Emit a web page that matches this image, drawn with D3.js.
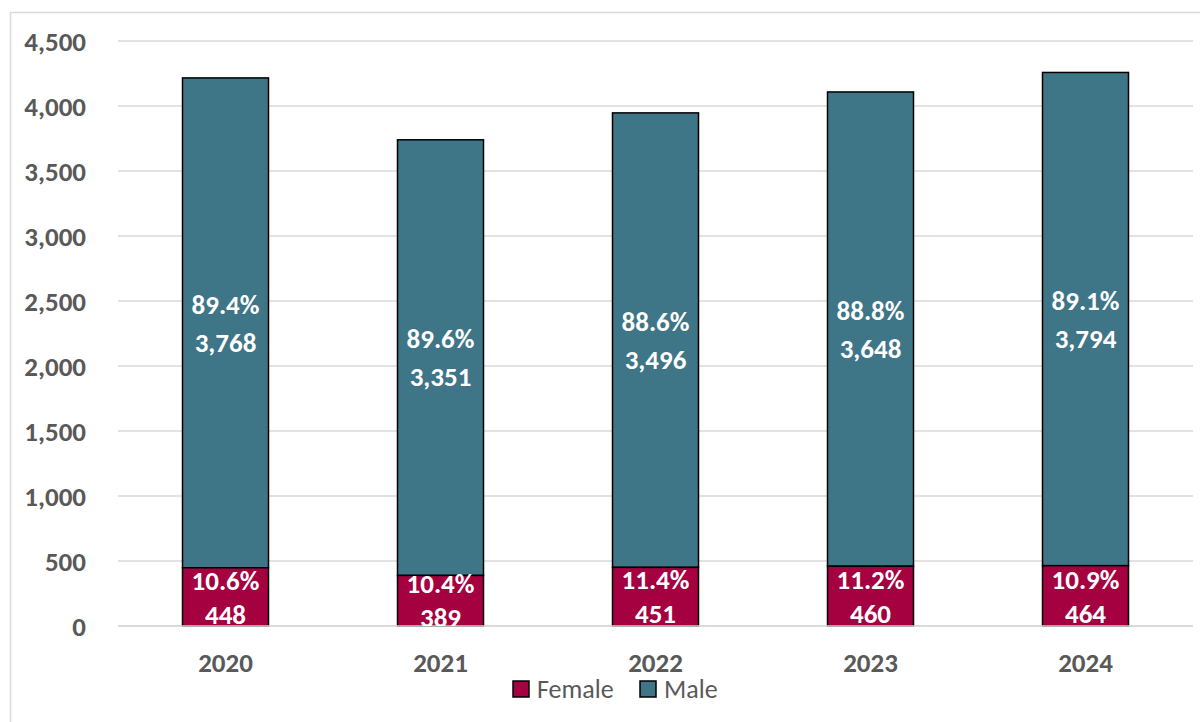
<!DOCTYPE html>
<html><head><meta charset="utf-8">
<script src="https://cdn.jsdelivr.net/npm/d3@7"></script>
<style>body{margin:0;background:#fff}svg{display:block}</style>
</head><body>
<script>
const years = ["2020","2021","2022","2023","2024"];
const female = [448, 389, 451, 460, 464];
const male = [3768, 3351, 3496, 3648, 3794];
const femalePct = ["10.6%","10.4%","11.4%","11.2%","10.9%"];
const malePct = ["89.4%","89.6%","88.6%","88.8%","89.1%"];
const yTicks = [0,500,1000,1500,2000,2500,3000,3500,4000,4500];
const seriesNames = ["Female","Male"];

const W=1200,H=722;
const font="Calibri, Carlito, Lato, 'Open Sans', sans-serif";
const cFemale="#A5003F", cMale="#3E7587", grey="#595959";
const svg=d3.select("body").append("svg").attr("width",W).attr("height",H);
svg.append("rect").attr("x",10.5).attr("y",12.5).attr("width",W).attr("height",H).attr("fill","none").attr("stroke","#d9d9d9").attr("stroke-width",1.5);

const x=d3.scaleBand().domain(years).range([118,1193]).paddingInner(0.6).paddingOuter(0.3);
const y=d3.scaleLinear().domain([0,4500]).range([626,41]);

const fmt=d3.format(",");
svg.append("g").selectAll("line").data(yTicks).join("line")
  .attr("x1",118).attr("x2",1193).attr("y1",d=>y(d)).attr("y2",d=>y(d))
  .attr("stroke","#d9d9d9").attr("stroke-width",1.5);
svg.append("g").selectAll("text").data(yTicks).join("text")
  .attr("x",86).attr("y",d=>y(d)).attr("dy","0.36em").attr("text-anchor","end")
  .attr("font-family",font).attr("font-weight","bold").attr("font-size",27).attr("fill",grey)
  .text(d=>fmt(d));

const data=years.map((yr,i)=>({yr,f:female[i],m:male[i],fp:femalePct[i],mp:malePct[i]}));
const g=svg.append("g");
g.selectAll(".m").data(data).join("rect")
  .attr("x",d=>x(d.yr)).attr("width",x.bandwidth())
  .attr("y",d=>y(d.f+d.m)).attr("height",d=>y(d.f)-y(d.f+d.m))
  .attr("fill",cMale).attr("stroke","#000").attr("stroke-width",1.5);
g.selectAll(".f").data(data).join("rect")
  .attr("x",d=>x(d.yr)).attr("width",x.bandwidth())
  .attr("y",d=>y(d.f)).attr("height",d=>y(0)-y(d.f))
  .attr("fill",cFemale).attr("stroke","#000").attr("stroke-width",1.5);
svg.append("line").attr("x1",118).attr("x2",1193).attr("y1",y(0)).attr("y2",y(0)).attr("stroke","#d9d9d9").attr("stroke-width",1.5);

svg.append("clipPath").attr("id","plot").append("rect").attr("x",100).attr("y",30).attr("width",1100).attr("height",y(0)-30);
const lab=svg.append("g").attr("clip-path","url(#plot)")
  .attr("font-family",font).attr("font-weight","bold").attr("font-size",27).attr("fill","#fff").attr("text-anchor","middle");
data.forEach(d=>{
  const cx=x(d.yr)+x.bandwidth()/2;
  const my=(y(d.f)+y(d.f+d.m))/2;
  lab.append("text").attr("x",cx).attr("y",my-19).attr("dy","0.36em").text(d.mp);
  lab.append("text").attr("x",cx).attr("y",my+19).attr("dy","0.36em").text(fmt(d.m));
  const fy=(y(0)+y(d.f))/2;
  lab.append("text").attr("x",cx).attr("y",fy-17).attr("dy","0.36em").text(d.fp);
  lab.append("text").attr("x",cx).attr("y",fy+17).attr("dy","0.36em").text(fmt(d.f));
});
svg.append("g").selectAll("text").data(years).join("text")
  .attr("x",d=>x(d)+x.bandwidth()/2).attr("y",662).attr("dy","0.36em").attr("text-anchor","middle")
  .attr("font-family",font).attr("font-weight","bold").attr("font-size",27).attr("fill",grey).text(d=>d);
const leg=svg.append("g");
const legX=[513,640], cols=[cFemale,cMale];
seriesNames.forEach((n,i)=>{
  leg.append("rect").attr("x",legX[i]).attr("y",681).attr("width",16).attr("height",16)
    .attr("fill",cols[i]).attr("stroke","#000").attr("stroke-width",1.5);
  leg.append("text").attr("x",legX[i]+24).attr("y",689).attr("dy","0.36em")
    .attr("font-family",font).attr("font-size",26).attr("fill",grey).text(n);
});
</script>
</body></html>
